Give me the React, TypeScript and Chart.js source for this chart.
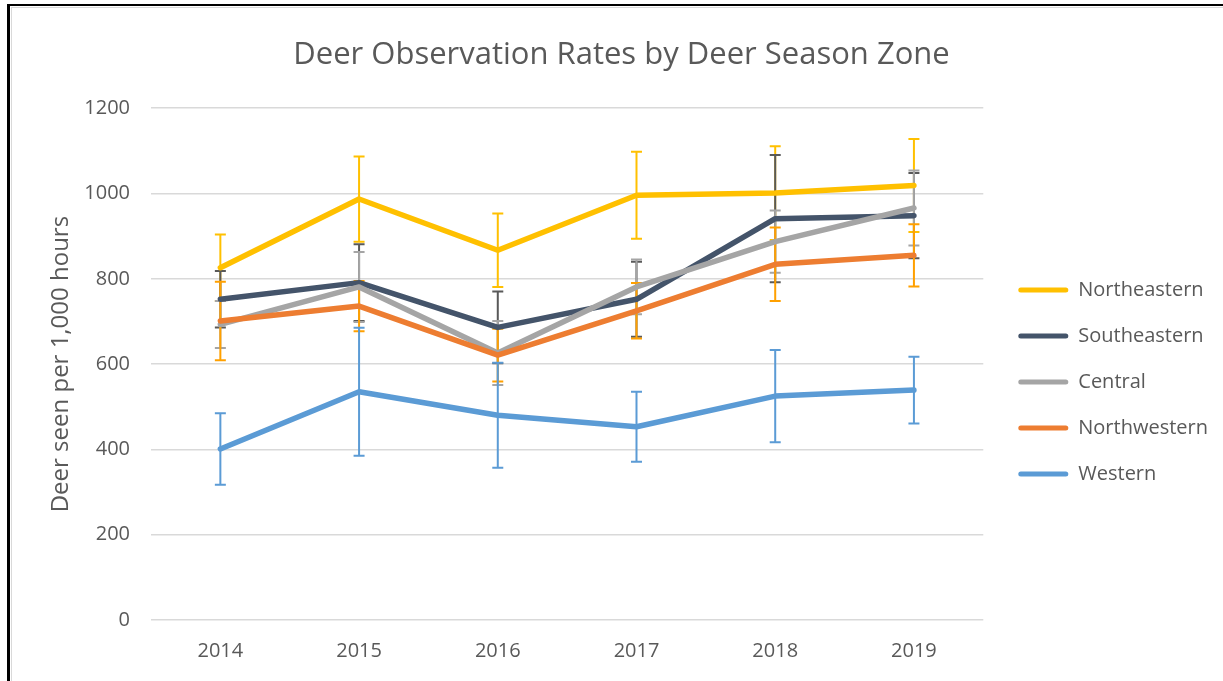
import React, { useEffect, useRef } from 'react';
import { Chart, registerables } from 'chart.js';

Chart.register(...registerables);

const years = ['2014', '2015', '2016', '2017', '2018', '2019'];
const seriesNames = ['Northeastern', 'Southeastern', 'Central', 'Northwestern', 'Western'];

const northeastern = [826, 987, 867, 996, 1001, 1019];
const southeastern = [752, 791, 686, 752, 941, 948];
const central = [693, 781, 626, 781, 887, 966];
const northwestern = [701, 736, 621, 725, 834, 855];
const western = [401, 535, 480, 453, 525, 539];

const northeasternErr = [78, 100, 86, 102, 110, 109];
const southeasternErr = [66, 90, 84, 88, 149, 100];
const centralErr = [55, 82, 75, 64, 73, 88];
const northwesternErr = [92, 59, 62, 65, 86, 73];
const westernErr = [84, 150, 123, 82, 108, 78];

const lineColors = ['#FFC000', '#44546A', '#A5A5A5', '#ED7D31', '#5B9BD5'];
const errorColors = ['#FFC000', '#595959', '#A5A5A5', '#FFA000', '#5B9BD5'];

const FONT = "'Open Sans', sans-serif";
const TEXT = '#595959';

const errorBarPlugin = {
  id: 'errorBars',
  beforeDatasetsDraw(chart: any, _args: any, opts: any) {
    const ctx = chart.ctx;
    const yScale = chart.scales.y;
    const errs = opts.errors as number[][];
    const colors = opts.colors as string[];
    chart.data.datasets.forEach((ds: any, i: number) => {
      const meta = chart.getDatasetMeta(i);
      ctx.save();
      ctx.strokeStyle = colors[i];
      ctx.lineWidth = 2;
      meta.data.forEach((pt: any, j: number) => {
        const v = ds.data[j];
        const e = errs[i][j];
        const x = pt.x;
        const yt = yScale.getPixelForValue(v + e);
        const yb = yScale.getPixelForValue(v - e);
        ctx.beginPath();
        ctx.moveTo(x, yt);
        ctx.lineTo(x, yb);
        ctx.moveTo(x - 5.5, yt);
        ctx.lineTo(x + 5.5, yt);
        ctx.moveTo(x - 5.5, yb);
        ctx.lineTo(x + 5.5, yb);
        ctx.stroke();
      });
      ctx.restore();
    });
  },
};

export default function App() {
  const ref = useRef<HTMLCanvasElement>(null);

  useEffect(() => {
    if (!ref.current) return;
    const values = [northeastern, southeastern, central, northwestern, western];
    const chart = new Chart(ref.current, {
      type: 'line',
      data: {
        labels: years,
        datasets: seriesNames.map((name, i) => ({
          label: name,
          data: values[i],
          borderColor: lineColors[i],
          backgroundColor: lineColors[i],
          borderWidth: 5.5,
          pointRadius: 0,
          pointHoverRadius: 0,
          borderCapStyle: 'round',
          borderJoinStyle: 'round',
          tension: 0,
          order: seriesNames.length - i,
          yAxisID: 'y',
        })),
      },
      options: {
        responsive: false,
        devicePixelRatio: 1,
        animation: false,
        layout: { padding: { left: 25, right: 5, top: 15, bottom: 18 } },
        scales: {
          x: {
            offset: true,
            grid: { display: false, drawTicks: false },
            border: { display: false },
            ticks: { color: TEXT, font: { family: FONT, size: 20 }, padding: 19, maxRotation: 0 },
            afterFit(scale: any) {
              scale.height = 43;
            },
          },
          y: {
            min: 0,
            max: 1200,
            ticks: {
              stepSize: 200,
              color: TEXT,
              font: { family: FONT, size: 20 },
              padding: 21,
              callback: (v: any) => String(v),
            },
            grid: { color: '#D9D9D9', lineWidth: 1.5, drawTicks: false },
            border: { display: false },
            title: {
              display: true,
              text: 'Deer seen per 1,000 hours',
              color: TEXT,
              font: { family: FONT, size: 24 },
              padding: { top: 22, bottom: 8 },
            },
            afterFit(scale: any) {
              scale.width = 126;
            },
          },
          yR: {
            type: 'linear',
            position: 'right',
            display: false,
            afterFit(scale: any) {
              scale.width = 9;
            },
          },
        },
        plugins: {
          title: {
            display: true,
            text: 'Deer Observation Rates by Deer Season Zone',
            color: TEXT,
            font: { family: FONT, size: 31, weight: 'normal' },
            padding: { top: 22, bottom: 34 },
          },
          legend: {
            position: 'right',
            align: 'center',
            title: { display: true, text: ' ', padding: 31, font: { family: FONT, size: 20 } },
            labels: {
              boxWidth: 50,
              boxHeight: 5,
              padding: 26,
              color: TEXT,
              font: { family: FONT, size: 20 },
              useBorderRadius: true,
              borderRadius: 2.5,
              generateLabels: (c: any) =>
                (Chart.defaults.plugins.legend.labels as any)
                  .generateLabels(c)
                  .map((l: any) => ({ ...l, lineWidth: 0 }))
                  .sort((a: any, b: any) => a.datasetIndex - b.datasetIndex),
            },
          },
          tooltip: { enabled: false },
          errorBars: {
            errors: [northeasternErr, southeasternErr, centralErr, northwesternErr, westernErr],
            colors: errorColors,
          },
        } as any,
      },
      plugins: [errorBarPlugin],
    } as any);
    return () => chart.destroy();
  }, []);

  return (
    <div style={{ position: 'fixed', left: 0, top: 0, width: 1223, height: 681, background: '#fff', overflow: 'hidden' }}>
      <canvas ref={ref} width={1223} height={681} style={{ position: 'absolute', left: 0, top: 0 }} />
      <div style={{ position: 'absolute', left: 7, top: 4, width: 1216, height: 2, background: '#000' }} />
      <div style={{ position: 'absolute', left: 7, top: 4, width: 3, height: 677, background: '#000' }} />
      <div style={{ position: 'absolute', left: 11, top: 7, width: 1212, height: 1, background: '#D9D9D9' }} />
      <div style={{ position: 'absolute', left: 11, top: 7, width: 1, height: 674, background: '#D9D9D9' }} />
    </div>
  );
}
